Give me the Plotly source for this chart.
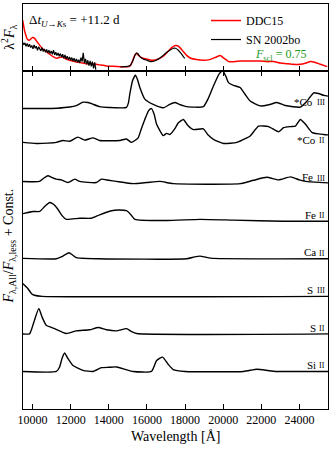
import plotly.graph_objects as go

# ---------------- data ----------------
tick_vals = [10000, 12000, 14000, 16000, 18000, 20000, 22000, 24000]
tick_text = ["10000", "12000", "14000", "16000", "18000", "20000", "22000", "24000"]

# top panel: model (DDC15)
model_wl = [9480, 9600, 9740, 9840, 10000, 10100, 10280, 10500, 10720, 10900, 11100, 11250, 11400,
            11550, 11750, 11950, 12200, 12400, 12600, 12825, 13100, 13350, 13600, 13880, 14200, 14580,
            14900, 15100, 15250, 15370, 15460, 15600, 15800, 16100, 16330, 16600, 16860, 17100, 17300,
            17500, 17650, 17910, 18100, 18300, 18600, 18960, 19300, 19650, 19840, 20050, 20300, 20600,
            20900, 21240, 21600, 21950, 22300, 22650, 23000, 23300, 23600, 24050, 24350, 24580, 24800,
            25100, 25460]
model_fl = [0.76, 0.58, 0.47, 0.46, 0.50, 0.49, 0.42, 0.34, 0.29, 0.25, 0.21, 0.19, 0.20,
            0.21, 0.18, 0.16, 0.14, 0.13, 0.12, 0.11, 0.11, 0.10, 0.09, 0.075, 0.07, 0.065,
            0.065, 0.07, 0.15, 0.24, 0.26, 0.22, 0.19, 0.17, 0.16, 0.18, 0.22, 0.29, 0.35,
            0.38, 0.37, 0.29, 0.23, 0.19, 0.17, 0.16, 0.17, 0.21, 0.23, 0.19, 0.14, 0.14,
            0.15, 0.15, 0.15, 0.15, 0.14, 0.14, 0.12, 0.11, 0.10, 0.10, 0.12, 0.14, 0.13,
            0.10, 0.065]

# top panel: observed SN 2002bo (two segments)
obs1_wl = [9480, 9540, 9600, 9660, 9720, 9780, 9840, 9900, 9960, 10020, 10080, 10140, 10200, 10260,
           10320, 10380, 10440, 10500, 10560, 10620, 10680, 10740, 10800, 10860, 10920, 10980, 11040,
           11100, 11160, 11220, 11280, 11340, 11400, 11460, 11520, 11580, 11640, 11700, 11760, 11820,
           11880, 11940, 12000, 12060, 12120, 12180, 12240, 12300, 12360, 12420, 12480, 12540, 12600,
           12660, 12720, 12780, 12840, 12900, 12960, 13020, 13080, 13140, 13200, 13260, 13320]
obs1_fl = [0.43, 0.39, 0.42, 0.37, 0.41, 0.36, 0.40, 0.35, 0.38, 0.33, 0.39, 0.34, 0.37, 0.31,
           0.36, 0.33, 0.30, 0.35, 0.29, 0.33, 0.28, 0.32, 0.27, 0.31, 0.26, 0.30, 0.25,
           0.31, 0.24, 0.28, 0.23, 0.27, 0.22, 0.26, 0.21, 0.25, 0.19, 0.24, 0.18, 0.22,
           0.17, 0.21, 0.16, 0.20, 0.15, 0.19, 0.14, 0.18, 0.13, 0.17, 0.12, 0.20, 0.14,
           0.27, 0.12, 0.18, 0.10, 0.16, 0.08, 0.15, 0.07, 0.14, 0.04, 0.13, 0.02]
obs2_wl = [14600, 14800, 15000, 15150, 15300, 15400, 15470, 15550, 15650, 15800, 16000, 16200,
           16400, 16600, 16800, 17000, 17200, 17400, 17500, 17650, 17800, 17950, 18000]
obs2_fl = [0.06, 0.065, 0.07, 0.09, 0.18, 0.25, 0.27, 0.25, 0.21, 0.18, 0.16, 0.14,
           0.15, 0.18, 0.22, 0.27, 0.31, 0.34, 0.34, 0.31, 0.26, 0.20, 0.19]

# lower panel: flux ratios (baseline ~1) per ion, and vertical offsets
co3_wl = [9480, 10500, 11300, 11950, 12300, 12650, 12900, 13090, 13520, 14000, 14930, 15030, 15100,
          15250, 15400, 15500, 15630, 15890, 16330, 16860, 17200, 17470, 17700, 18090, 18960, 19200,
          19490, 19800, 19980, 20150, 20280, 20540, 20890, 21150, 21420, 21950, 22400, 22820, 23260,
          24050, 24400, 24750, 25000, 25280, 25500]
co3_r = [1.0, 1.0, 1.01, 1.04, 1.08, 1.17, 1.16, 1.13, 1.05, 1.03, 1.03, 1.15, 1.38,
         1.75, 1.89, 1.78, 1.56, 1.25, 1.11, 1.02, 1.11, 1.16, 1.11, 1.05, 1.05, 1.25,
         1.60, 1.93, 2.00, 1.85, 1.69, 1.62, 1.56, 1.38, 1.20, 1.07, 1.10, 1.16, 1.08,
         1.04, 1.20, 1.42, 1.40, 1.35, 1.33]

co2_wl = [9480, 10190, 10800, 11250, 11600, 11950, 12380, 12730, 13170, 13520, 14580, 14930, 15190,
          15540, 15700, 15890, 16100, 16240, 16380, 16510, 16860, 17030, 17210, 17450, 17650, 17910,
          18150, 18440, 18960, 19200, 19490, 20020, 20720, 21240, 21420, 21860, 22380, 22910, 23170,
          23530, 23790, 24050, 24320, 24670, 25280, 25500]
co2_r = [1.10, 1.07, 1.08, 1.10, 1.15, 1.13, 1.24, 1.16, 1.22, 1.15, 1.15, 1.19, 1.10,
         1.22, 1.45, 1.71, 1.95, 2.00, 1.85, 1.58, 1.28, 1.34, 1.31, 1.45, 1.62, 1.71,
         1.55, 1.44, 1.46, 1.30, 1.18, 1.07, 1.10, 1.22, 1.27, 1.53, 1.52, 1.38, 1.49,
         1.52, 1.53, 1.71, 1.58, 1.36, 1.31, 1.30]

fe3_wl = [9480, 10370, 10600, 10810, 11000, 11250, 11510, 11860, 12210, 12470, 13350, 13610, 14000,
          14400, 15280, 16000, 16680, 17380, 20890, 21590, 22290, 22910, 23530, 24000, 24320, 25500]
fe3_r = [1.06, 1.06, 1.15, 1.21, 1.17, 1.12, 1.10, 1.03, 1.12, 1.06, 1.03, 1.12, 1.09,
         1.06, 1.00, 1.03, 1.06, 1.00, 1.00, 1.09, 1.17, 1.10, 1.18, 1.10, 1.06, 1.02]

fe2_wl = [9480, 10020, 10370, 10650, 10900, 11100, 11330, 11550, 11770, 12470, 13090, 13520, 14140,
          14500, 14930, 15150, 15370, 17030, 18790, 20540, 23170, 25500]
fe2_r = [1.20, 1.26, 1.26, 1.40, 1.50, 1.45, 1.32, 1.15, 1.05, 1.08, 1.08, 1.17, 1.28,
         1.30, 1.28, 1.18, 1.05, 1.02, 1.05, 1.03, 1.00, 1.00]

ca2_wl = [9480, 11250, 11510, 11910, 12100, 12300, 13500, 18090, 18500, 18790, 19100, 19490, 25500]
ca2_r = [1.01, 1.00, 1.05, 1.16, 1.10, 1.03, 1.00, 1.00, 1.05, 1.07, 1.04, 1.01, 1.00]

s3_wl = [9480, 9750, 9950, 10100, 10500, 25500]
s3_r = [1.34, 1.21, 1.07, 1.03, 1.00, 1.00]

s2_wl = [9480, 9840, 10000, 10100, 10330, 10500, 10720, 11160, 11770, 12300, 13000, 13440, 13880,
         14400, 14930, 15200, 15460, 25500]
s2_r = [1.00, 1.00, 1.20, 1.36, 1.68, 1.45, 1.23, 1.14, 1.01, 1.08, 1.11, 1.17, 1.11,
        1.08, 1.14, 1.06, 1.01, 1.00]

si2_wl = [9480, 11250, 11420, 11550, 11680, 11850, 12120, 12650, 13170, 13610, 14000, 14400, 15280,
          16240, 16510, 16820, 17100, 17380, 18000, 21070, 21770, 22400, 22800, 25500]
si2_r = [1.00, 1.00, 1.12, 1.35, 1.49, 1.35, 1.16, 1.03, 1.00, 1.10, 1.11, 1.12, 1.00,
         1.00, 1.29, 1.38, 1.20, 1.05, 1.00, 1.00, 1.06, 1.02, 1.00, 1.00]

ion_names = ["*Co", "*Co", "Fe", "Fe", "Ca", "S", "S", "Si"]
ion_stages = ["III", "II", "III", "II", "II", "III", "II", "II"]
ion_consts = [6, 5, 4, 3, 2, 1, 0, -1]
ion_wl = [co3_wl, co2_wl, fe3_wl, fe2_wl, ca2_wl, s3_wl, s2_wl, si2_wl]
ion_r = [co3_r, co2_r, fe3_r, fe2_r, ca2_r, s3_r, s2_r, si2_r]

# ---------------- figure ----------------
FONT = "Liberation Serif, serif"
fig = go.Figure()

fig.add_trace(go.Scatter(x=model_wl, y=model_fl, mode="lines", name="DDC15", legendrank=1,
                         line=dict(color="#ff0000", width=1.5, shape="spline", smoothing=0.6),
                         xaxis="x2", yaxis="y2"))
fig.add_trace(go.Scatter(x=obs1_wl, y=obs1_fl, mode="lines", name="SN 2002bo", legendgroup="obs",
                         legendrank=2,
                         line=dict(color="black", width=1.2), xaxis="x2", yaxis="y2"))
fig.add_trace(go.Scatter(x=obs2_wl, y=obs2_fl, mode="lines", name="SN 2002bo", legendgroup="obs",
                         showlegend=False, legendrank=2,
                         line=dict(color="black", width=1.2, shape="spline", smoothing=0.5),
                         xaxis="x2", yaxis="y2"))

X_LABEL = 25440
for name, stage, c, wl, r in zip(ion_names, ion_stages, ion_consts, ion_wl, ion_r):
    fig.add_trace(go.Scatter(x=wl, y=[v + c for v in r], mode="lines", showlegend=False,
                             line=dict(color="black", width=1.4, shape="spline", smoothing=0.5),
                             xaxis="x", yaxis="y"))
    stage_w = 9 if stage == "III" else 6
    fig.add_annotation(x=X_LABEL, y=c + 1.15, xref="x", yref="y", xanchor="right", yanchor="middle",
                       showarrow=False, text=stage,
                       font=dict(family=FONT, size=8, color="black"))
    fig.add_annotation(x=X_LABEL, y=c + 1.17, xref="x", yref="y", xanchor="right", yanchor="middle",
                       showarrow=False, text=name, xshift=-(stage_w + 3),
                       font=dict(family=FONT, size=11, color="black"))

split = 338 / 405
axis_common = dict(showgrid=False, zeroline=False, showline=True, linecolor="black", linewidth=1)
fig.update_layout(
    width=332, height=450,
    margin=dict(l=23, r=4, t=4, b=41),
    paper_bgcolor="white", plot_bgcolor="white",
    font=dict(family=FONT, size=12, color="black"),
    xaxis=dict(range=[9500, 25500], anchor="y", tickvals=tick_vals, ticktext=tick_text,
               ticks="inside", ticklen=5, tickcolor="black", mirror="ticks",
               tickfont=dict(family=FONT, size=12), **axis_common),
    yaxis=dict(range=[-1, 8], domain=[0, split], showticklabels=False, ticks="",
               mirror=True, **axis_common),
    xaxis2=dict(range=[9500, 25500], anchor="y2", matches="x", tickvals=tick_vals,
                showticklabels=False, ticks="inside", ticklen=5, tickcolor="black", mirror=True,
                **axis_common),
    yaxis2=dict(range=[0, 1], domain=[split, 1], showticklabels=False, ticks="",
                mirror=True, **axis_common),
    legend=dict(x=0.60, y=0.995, xanchor="left", yanchor="top", bgcolor="rgba(0,0,0,0)",
                font=dict(family=FONT, size=12), tracegroupgap=0, itemwidth=30,
                traceorder="normal"),
    showlegend=True,
)

fig.add_annotation(x=0.012, y=0.985, xref="paper", yref="paper", xanchor="left", yanchor="top",
                   showarrow=False,
                   text="Δ<i>t</i><sub><i>U</i>→<i>K</i>s</sub> = +11.2 d",
                   font=dict(family=FONT, size=13))
fig.add_annotation(x=0.755, y=0.874, xref="paper", yref="paper", xanchor="left", yanchor="middle",
                   showarrow=False, text="<i>F</i><sub>scl</sub> = 0.75",
                   font=dict(family=FONT, size=12, color="#1e9a1e"))
fig.add_annotation(x=-0.045, y=(1 + split) / 2, xref="paper", yref="paper", xanchor="center",
                   yanchor="middle", textangle=-90, showarrow=False,
                   text="λ<sup>2</sup><i>F</i><sub>λ</sub>", font=dict(family=FONT, size=14))
fig.add_annotation(x=-0.045, y=0.402, xref="paper", yref="paper", xanchor="center",
                   yanchor="middle", textangle=-90, showarrow=False,
                   text="<i>F</i><sub>λ,All</sub>/<i>F</i><sub>λ,less</sub> + Const.",
                   font=dict(family=FONT, size=14))
fig.add_annotation(x=0.5, y=-0.069, xref="paper", yref="paper", xanchor="center",
                   yanchor="middle", showarrow=False, text="Wavelength [Å]",
                   font=dict(family=FONT, size=14))

fig.write_html("out.html", config={"displayModeBar": False},
               post_script="document.body.style.margin='0';document.body.style.padding='0';")
